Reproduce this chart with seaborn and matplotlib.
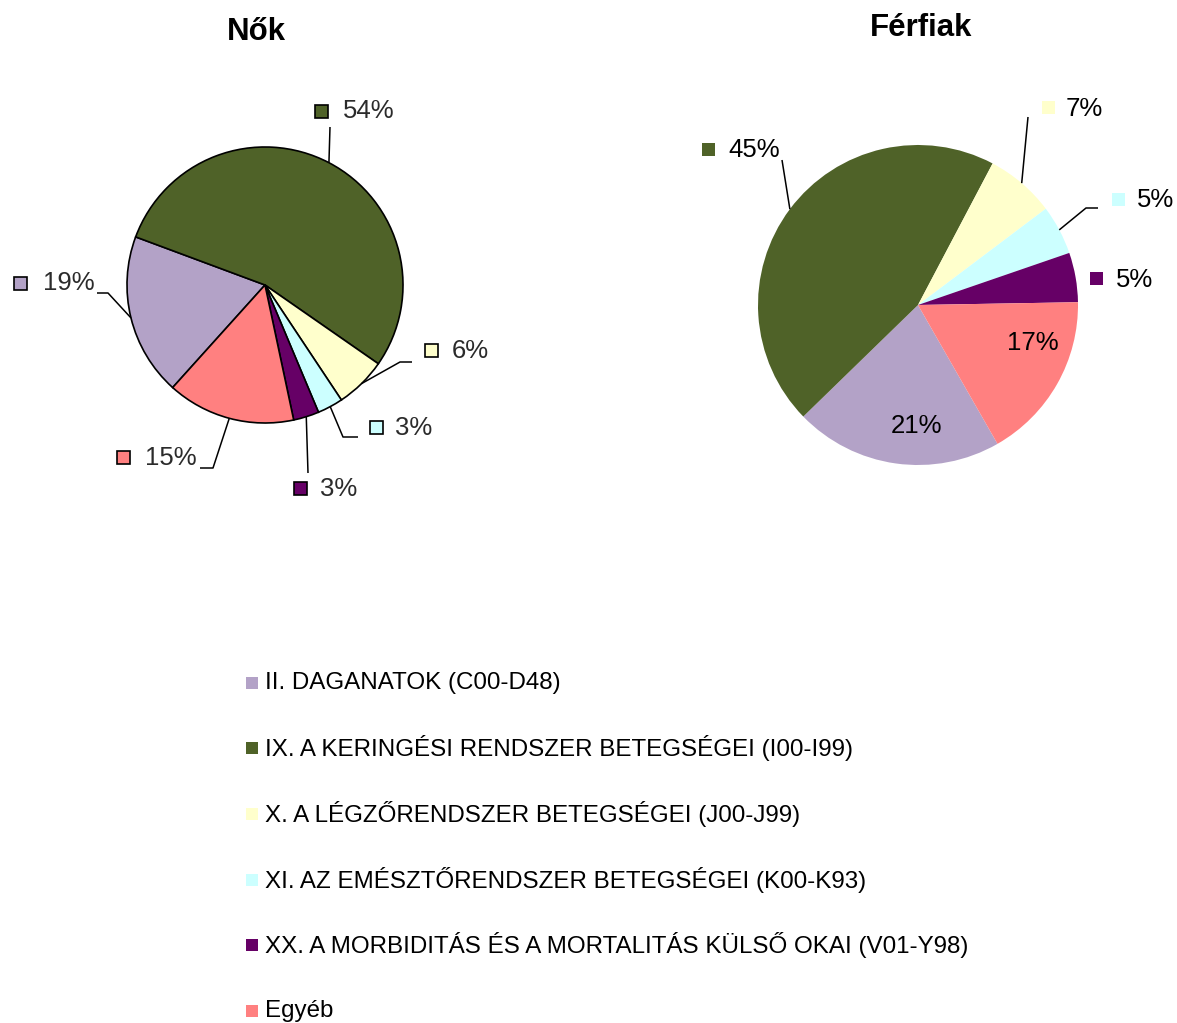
import matplotlib
matplotlib.use("Agg")
import numpy as np
import matplotlib.pyplot as plt
import seaborn as sns
from matplotlib.patches import Rectangle

sns.set_theme(style="white")
plt.rcParams["font.family"] = ["Liberation Sans", "DejaVu Sans"]
plt.rcParams["text.color"] = "black"

W, H = 1177, 1023

# categories in series order (legend order)
kategoriak = [
    "II. DAGANATOK (C00-D48)",
    "IX. A KERINGÉSI RENDSZER BETEGSÉGEI (I00-I99)",
    "X. A LÉGZŐRENDSZER BETEGSÉGEI (J00-J99)",
    "XI. AZ EMÉSZTŐRENDSZER BETEGSÉGEI (K00-K93)",
    "XX. A MORBIDITÁS ÉS A MORTALITÁS KÜLSŐ OKAI (V01-Y98)",
    "Egyéb",
]
szinek = ["#B3A2C7", "#4F6228", "#FFFFCC", "#CCFFFF", "#660066", "#FF8080"]

nok = [19, 54, 6, 3, 3, 15]
ferfiak = [21, 45, 7, 5, 5, 17]

# label layout (image pixel coords): marker centre, text start, leader path
nok_cimkek = [
    dict(m=(20, 283), t=(43, 283), path=[(108, 293), (97, 293)]),
    dict(m=(321, 111), t=(343, 111), path=[(330, 127)]),
    dict(m=(431, 350), t=(452, 351), path=[(400, 362), (412, 362)]),
    dict(m=(376, 427), t=(395, 428), path=[(343, 437), (358, 437)]),
    dict(m=(300, 488), t=(320, 489), path=[(308, 473)]),
    dict(m=(123, 457), t=(145, 458), path=[(213, 468), (200, 468)]),
]
ferfi_cimkek = [
    dict(inside=(916, 426)),
    dict(m=(708, 149), t=(728, 150), path=[(782, 160)]),
    dict(m=(1048, 107), t=(1066, 109), path=[(1028, 117)]),
    dict(m=(1118, 199), t=(1137, 200), path=[(1086, 208), (1098, 208)]),
    dict(m=(1096, 278), t=(1116, 280), path=None),
    dict(inside=(1033, 343)),
]


def Y(y):
    return H - y


fig = plt.figure(figsize=(W / 100, H / 100), dpi=100)
ax = fig.add_axes([0, 0, 1, 1])
ax.set_aspect("equal")
ax.axis("off")


def rajz(ertekek, cimkek, kozep, r, start, kontur, szoveg_szin, marker_el):
    cx, cy = kozep
    wedgeprops = dict(edgecolor="black", linewidth=1.2) if kontur else dict(linewidth=0)
    ek, _ = ax.pie(ertekek, colors=szinek, startangle=start, counterclock=False,
                   center=(cx, Y(cy)), radius=r, wedgeprops=wedgeprops, frame=True)
    for w, v, c, col in zip(ek, ertekek, cimkek, szinek):
        txt = f"{v}%"
        if "inside" in c:
            ax.text(c["inside"][0], Y(c["inside"][1]), txt, fontsize=18.5,
                    color="black", ha="center", va="center")
            continue
        mid = np.deg2rad((w.theta1 + w.theta2) / 2)
        sx, sy = cx + r * np.cos(mid), Y(cy) + r * np.sin(mid)
        if c["path"]:
            xs = [sx] + [p[0] for p in c["path"]]
            ys = [sy] + [Y(p[1]) for p in c["path"]]
            if len(c["path"]) == 1 and abs(c["path"][0][0] - sx) < 12:
                xs[1] = c["path"][0][0]
            ax.plot(xs, ys, color="black", lw=1.1, solid_capstyle="butt")
        s = 13
        mx, my = c["m"]
        ax.add_patch(Rectangle((mx - s / 2, Y(my) - s / 2), s, s, facecolor=col,
                               edgecolor="black" if marker_el else "none", lw=1.2))
        ax.text(c["t"][0], Y(c["t"][1]), txt, fontsize=18.5, color=szoveg_szin,
                ha="left", va="center")


rajz(nok, nok_cimkek, (265, 285), 138, 228, True, "#2b2b2b", True)
rajz(ferfiak, ferfi_cimkek, (918, 305), 160, -60.2, False, "black", False)

ax.set_xlim(0, W)
ax.set_ylim(0, H)

ax.text(256, Y(32), "Nők", fontsize=22.5, fontweight="bold", ha="center", va="center")
ax.text(921, Y(28), "Férfiak", fontsize=22.5, fontweight="bold", ha="center", va="center")

# legend
sor_y = [683, 748, 814, 880, 945, 1011]
for nev, col, yy in zip(kategoriak, szinek, sor_y):
    ax.add_patch(Rectangle((246, Y(yy) - 6), 12, 12, facecolor=col, edgecolor="none"))
    ax.text(265, Y(yy), nev, fontsize=17.4, color="black", ha="left", va="center")

fig.savefig("out.png", dpi=100)
